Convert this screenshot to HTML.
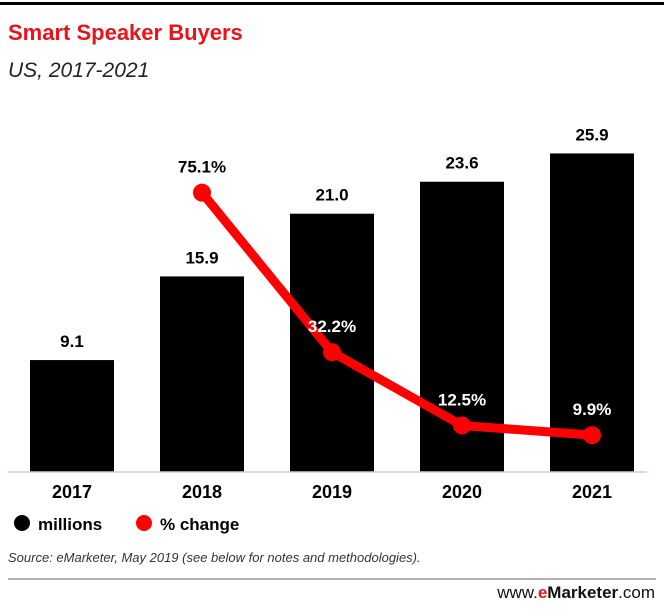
<!DOCTYPE html>
<html><head><meta charset="utf-8"><style>
body{margin:0;background:#fff;width:664px;height:607px;overflow:hidden;font-family:"Liberation Sans",sans-serif}
</style></head><body>
<svg width="664" height="607" xmlns="http://www.w3.org/2000/svg">
<rect x="0" y="2" width="664" height="3" fill="#000"/>
<text x="8" y="40" font-size="22" font-weight="bold" fill="#e8141b">Smart Speaker Buyers</text>
<text x="8" y="77" font-size="21" font-style="italic" fill="#222">US, 2017-2021</text>
<g id="bars"></g>
<line x1="8" y1="472" x2="647" y2="472" stroke="#c5d0e0" stroke-width="1.5"/>
<g id="line"></g>
<g id="labels"></g>
<g>
<circle cx="22" cy="523" r="8" fill="#000"/>
<text x="38" y="530" font-size="17" font-weight="bold">millions</text>
<circle cx="144" cy="523" r="8" fill="#f00"/>
<text x="160" y="530" font-size="17" font-weight="bold">% change</text>
</g>
<text x="8" y="562" font-size="13" font-style="italic" fill="#333">Source: eMarketer, May 2019 (see below for notes and methodologies).</text>
<line x1="8" y1="579" x2="656" y2="579" stroke="#999" stroke-width="1.5"/>
<text x="655" y="598" font-size="17" text-anchor="end" fill="#111">www.<tspan fill="#e8141b" font-weight="bold">e</tspan><tspan font-weight="bold">Marketer</tspan>.com</text>
</svg>
<script>
const years=["2017","2018","2019","2020","2021"];
const millions=[9.1,15.9,21.0,23.6,25.9];
const pctYears=["2018","2019","2020","2021"];
const pctChange=[75.1,32.2,12.5,9.9];
const ns="http://www.w3.org/2000/svg";
const base=472;
const xC=i=>72+i*130;
const yBar=v=>base-v*12.3;
const yPct=v=>base-v*3.72;
function mk(t,a,p){const e=document.createElementNS(ns,t);for(const k in a)e.setAttribute(k,a[k]);p.appendChild(e);return e;}
const bars=document.getElementById('bars'),line=document.getElementById('line'),labels=document.getElementById('labels');
years.forEach((y,i)=>{
 const r=mk('rect',{x:xC(i)-42,y:yBar(millions[i]),width:84,height:base-yBar(millions[i]),fill:'#000'},bars);
 
 
 const t=mk('text',{x:xC(i),y:yBar(millions[i])-13,'font-size':17,'font-weight':'bold','text-anchor':'middle'},labels);
 t.textContent=millions[i].toFixed(1);
 
 
 const xl=mk('text',{x:xC(i),y:498,'font-size':18,'font-weight':'bold','text-anchor':'middle'},labels);
 xl.textContent=y;
 
 
});
const pts=pctYears.map((y,i)=>[xC(years.indexOf(y)),yPct(pctChange[i])]);
const pl=mk('polyline',{points:pts.map(p=>p.join(',')).join(' '),fill:'none',stroke:'#f00','stroke-width':9,'stroke-linejoin':'round'},line);


pctYears.forEach((y,i)=>{
 const c=mk('circle',{cx:pts[i][0],cy:pts[i][1],r:9,fill:'#f00'},line);
 
 
 const t=mk('text',{x:pts[i][0],y:pts[i][1]-20,'font-size':17,'font-weight':'bold','text-anchor':'middle',fill:i===0?'#000':'#fff'},labels);
 t.textContent=pctChange[i].toFixed(1)+'%';
 
 
});
</script>
</body></html>
